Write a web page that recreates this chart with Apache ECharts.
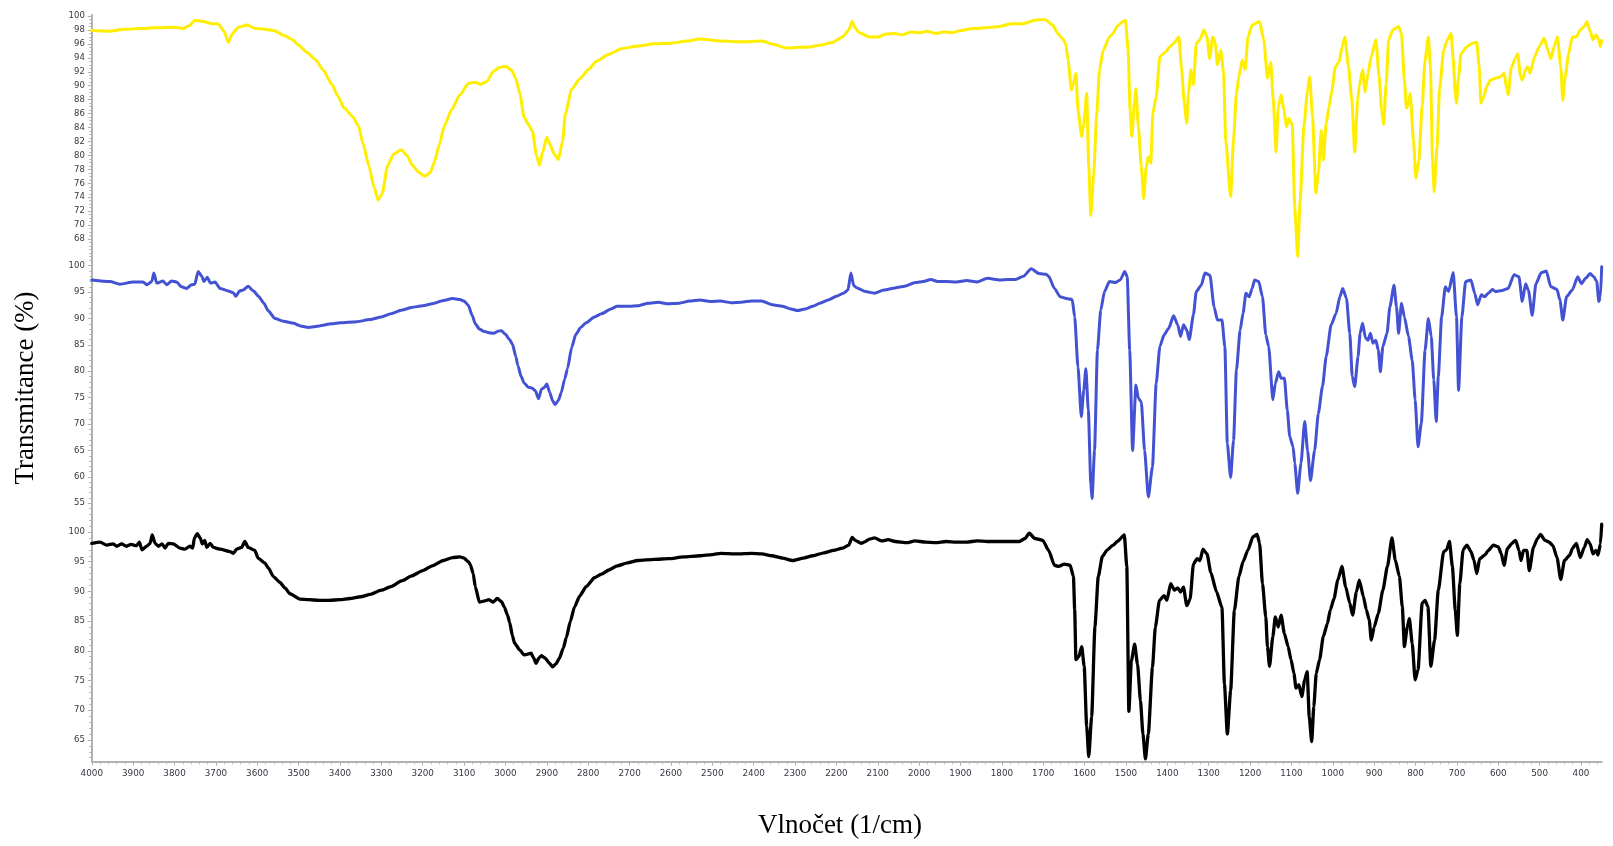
<!DOCTYPE html>
<html>
<head>
<meta charset="utf-8">
<script src="https://cdn.jsdelivr.net/npm/echarts@6/dist/echarts.min.js"></script>
<style>
html,body{margin:0;padding:0;background:#fff;}
#chart{width:1613px;height:846px;}
</style>
</head>
<body>
<div id="chart"></div>
<script>
// ---- DATA ----
const yellowWn = [4000,3960,3920,3880,3850,3800,3780,3765,3750,3730,3710,3695,3680,3670,3660,3645,3625,3605,3580,3560,3535,3515,3500,3480,3460,3440,3420,3405,3390,3370,3355,3345,3330,3318,3308,3298,3285,3270,3252,3238,3225,3210,3195,3182,3172,3160,3148,3130,3110,3090,3075,3060,3045,3030,3015,3000,2985,2975,2965,2955,2945,2935,2925,2918,2910,2900,2892,2882,2872,2862,2855,2840,2820,2800,2780,2750,2720,2680,2640,2600,2560,2530,2480,2430,2380,2350,2320,2290,2270,2240,2210,2185,2170,2162,2155,2145,2120,2100,2080,2060,2040,2020,2000,1980,1960,1940,1920,1900,1870,1840,1805,1777,1748,1720,1696,1677,1665,1654,1646,1640,1632,1627,1621,1616,1607,1602,1595,1590,1585,1578,1571,1564,1555,1540,1531,1522,1507,1501,1495,1490,1486,1479,1476,1470,1463,1457,1451,1446,1440,1435,1427,1418,1403,1394,1384,1372,1366,1359,1353,1349,1343,1337,1330,1321,1312,1304,1298,1290,1284,1279,1271,1264,1259,1247,1240,1233,1227,1219,1212,1205,1195,1177,1167,1158,1150,1144,1137,1132,1125,1118,1112,1106,1098,1092,1085,1079,1070,1061,1056,1049,1041,1035,1028,1023,1016,1009,1002,994,985,977,971,962,954,947,940,936,928,922,915,907,896,888,882,877,871,865,855,841,834,827,822,817,813,805,799,792,784,777,769,764,759,755,748,742,732,723,714,709,704,701,696,690,676,662,652,646,642,635,628,619,605,594,586,579,576,569,559,553,546,542,534,529,523,512,501,489,480,473,465,457,449,444,438,430,421,411,402,392,386,378,371,364,357,353,350];
const yellowT = [97.9,97.8,98.1,98.2,98.3,98.4,98.2,98.6,99.4,99.2,98.9,98.9,97.8,96.2,97.5,98.4,98.7,98.2,98.1,97.9,97.2,96.6,95.8,94.8,93.8,92.2,90.2,88.5,86.8,85.6,84.2,81.8,78.5,75.5,73.6,74.5,78.5,80.2,80.8,80.0,78.6,77.6,77.0,77.5,79.0,81.5,84.2,86.6,88.7,90.3,90.5,90.2,90.6,92.0,92.6,92.8,92.2,91.0,88.8,85.5,84.5,83.5,80.0,78.6,80.5,82.6,81.5,80.2,79.4,82.0,86.0,89.5,91.0,92.3,93.5,94.5,95.3,95.7,96.0,96.1,96.4,96.7,96.4,96.3,96.4,95.9,95.4,95.5,95.5,95.8,96.2,97.0,98.0,99.2,98.3,97.6,97.0,97.0,97.4,97.5,97.3,97.7,97.6,97.8,97.5,97.7,97.6,97.9,98.2,98.3,98.5,98.9,98.9,99.4,99.5,98.7,97.5,96.8,96.1,93.7,89.4,90.3,91.8,86.5,82.7,84.6,88.9,78.4,71.4,77.4,85.6,92.3,95.1,97.0,97.5,98.5,99.2,99.4,95.1,86.5,82.7,87.9,89.6,84.1,78.4,73.8,78.4,79.8,78.9,86.0,88.4,94.2,94.9,95.6,96.1,97.0,92.7,87.5,84.6,88.9,92.3,90.1,96.1,96.6,98.0,97.0,93.9,97.0,96.1,93.0,95.1,91.8,82.2,74.1,82.2,88.9,91.3,93.7,92.3,97.0,98.7,99.2,96.6,91.1,93.4,87.9,80.5,86.9,88.7,86.5,84.1,85.3,84.4,72.6,65.5,73.5,84.1,89.4,91.3,85.6,74.6,77.4,83.6,79.3,84.6,87.0,89.4,92.7,93.4,95.6,97.0,92.7,87.9,80.5,87.9,89.9,92.3,89.1,91.8,94.2,96.6,91.3,86.5,84.4,90.3,96.6,98.0,98.5,97.5,90.8,86.8,87.5,88.9,82.2,76.7,79.3,87.0,93.7,97.0,92.7,79.3,74.8,81.3,89.4,95.1,96.6,97.5,93.9,88.9,87.5,91.3,94.6,95.6,96.1,96.2,92.7,87.5,88.4,89.9,90.8,91.1,91.3,91.8,89.4,88.7,92.5,93.9,94.6,91.3,90.8,92.3,92.7,91.8,94.2,95.6,96.8,95.1,93.9,95.6,97.0,92.7,87.9,91.3,94.6,97.0,97.0,98.0,98.5,99.2,97.8,96.6,97.3,96.6,95.6,96.5];

const blueWn = [4000,3956,3932,3900,3876,3867,3855,3850,3843,3828,3819,3807,3795,3783,3771,3759,3751,3743,3734,3729,3721,3713,3702,3690,3670,3658,3652,3643,3634,3622,3609,3597,3585,3573,3557,3537,3512,3496,3476,3450,3420,3400,3360,3327,3300,3277,3250,3227,3200,3177,3150,3128,3110,3100,3090,3080,3073,3063,3053,3040,3028,3018,3010,3000,2990,2983,2975,2970,2962,2955,2945,2935,2928,2920,2913,2905,2900,2893,2886,2880,2872,2865,2857,2850,2840,2830,2818,2805,2785,2768,2745,2730,2700,2680,2655,2630,2610,2580,2555,2530,2505,2480,2455,2430,2405,2381,2355,2331,2310,2294,2275,2257,2240,2220,2200,2183,2172,2165,2158,2150,2130,2108,2085,2058,2035,2009,1990,1972,1955,1934,1910,1885,1860,1835,1805,1785,1767,1748,1729,1710,1693,1687,1673,1659,1644,1630,1624,1616,1608,1602,1597,1591,1585,1582,1576,1569,1561,1552,1540,1526,1514,1503,1497,1491,1484,1476,1470,1463,1455,1446,1436,1427,1418,1408,1397,1385,1375,1368,1361,1353,1347,1337,1330,1318,1309,1297,1287,1279,1268,1261,1255,1247,1240,1233,1224,1217,1210,1202,1195,1189,1179,1170,1162,1155,1145,1139,1131,1125,1117,1110,1104,1096,1092,1085,1077,1068,1061,1054,1044,1035,1025,1016,1004,992,983,976,967,959,953,947,939,934,928,921,915,909,903,896,890,885,879,869,862,852,846,841,834,827,817,808,801,794,786,777,769,762,756,750,745,737,728,720,709,701,696,688,679,666,657,650,641,633,624,614,607,591,576,562,550,542,534,527,518,509,496,484,473,458,451,444,435,421,408,399,389,378,369,362,357,353,350];
const blueT = [97.3,97.0,96.5,96.9,96.9,96.4,97.0,98.6,96.7,97.1,96.4,97.1,96.9,96.0,95.7,96.4,96.5,98.9,98.0,97.0,97.8,96.7,96.9,95.7,95.2,94.9,94.2,95.2,95.4,96.1,95.2,94.2,93.0,91.4,90.0,89.5,89.1,88.6,88.3,88.6,89.0,89.2,89.4,89.8,90.3,90.9,91.6,92.1,92.4,92.8,93.4,93.8,93.6,93.3,92.5,90.5,89.0,88.0,87.6,87.3,87.2,87.6,87.7,87.0,86.0,85.1,82.8,81.1,79.0,77.8,77.0,76.8,76.3,74.8,76.6,77.0,77.6,76.0,74.4,73.7,74.5,76.0,78.5,80.5,84.5,87.0,88.3,89.2,90.3,90.9,91.8,92.3,92.3,92.4,92.9,93.1,92.8,92.9,93.3,93.5,93.2,93.3,93.0,93.1,93.3,93.3,92.6,92.3,91.8,91.5,91.8,92.3,92.9,93.5,94.2,94.8,95.4,98.6,96.2,95.8,95.1,94.8,95.4,95.8,96.1,96.8,97.0,97.4,97.0,97.0,96.9,97.2,96.9,97.6,97.3,97.4,97.4,98.0,99.4,98.5,98.4,98.0,95.7,94.1,93.8,93.6,90.3,80.8,71.4,76.4,80.5,72.6,58.7,55.9,65.0,84.0,91.6,95.1,97.0,96.8,97.3,98.9,97.9,84.0,65.0,77.4,74.9,74.2,65.0,56.2,61.9,77.7,84.7,86.9,88.1,90.5,88.8,86.6,88.8,87.8,86.0,90.7,95.1,96.3,98.6,98.2,92.2,89.7,89.7,84.7,66.3,59.9,66.9,80.2,87.8,91.0,94.8,94.1,95.7,97.3,97.0,94.1,86.9,84.7,74.6,77.7,79.9,78.7,78.7,72.6,67.6,65.7,62.6,56.9,62.6,70.5,65.0,59.3,65.0,72.0,77.1,82.8,88.8,91.0,94.1,95.7,93.8,87.2,79.0,77.1,82.8,87.2,89.1,86.3,85.9,87.2,85.3,85.9,84.0,79.9,84.7,87.2,92.2,96.3,92.2,87.2,92.9,90.3,86.6,82.1,74.6,65.7,70.2,84.0,90.0,86.6,78.4,70.5,79.0,90.3,96.0,95.1,98.7,90.3,76.4,90.3,97.0,97.3,94.8,92.6,94.5,94.1,94.8,95.5,95.1,95.3,95.7,98.3,97.9,93.2,96.6,95.3,90.6,96.6,98.7,99.0,96.0,95.5,93.5,89.7,94.1,95.4,97.9,96.6,97.6,98.5,97.9,97.0,93.2,94.1,99.8];

const blackWn = [4000,3980,3964,3948,3940,3928,3916,3905,3892,3885,3879,3867,3859,3854,3847,3839,3830,3823,3815,3803,3787,3775,3763,3756,3752,3745,3738,3733,3727,3722,3714,3706,3690,3666,3658,3650,3638,3630,3622,3606,3598,3582,3573,3561,3545,3533,3521,3497,3476,3450,3426,3400,3376,3350,3327,3300,3277,3250,3227,3200,3177,3150,3128,3110,3100,3090,3085,3078,3073,3063,3050,3040,3030,3020,3010,3003,2995,2990,2983,2978,2965,2955,2948,2938,2932,2926,2919,2913,2907,2903,2895,2886,2878,2870,2860,2853,2843,2833,2820,2805,2785,2768,2750,2730,2705,2680,2640,2605,2570,2530,2500,2480,2440,2406,2380,2356,2330,2306,2280,2257,2230,2207,2185,2170,2162,2155,2140,2133,2120,2108,2090,2075,2058,2030,2010,1984,1960,1935,1910,1885,1860,1835,1805,1758,1744,1734,1720,1701,1687,1673,1663,1649,1635,1627,1624,1621,1614,1607,1601,1595,1590,1583,1575,1567,1557,1545,1531,1521,1504,1498,1493,1487,1479,1472,1465,1459,1453,1446,1436,1429,1419,1408,1401,1392,1383,1375,1368,1361,1353,1345,1337,1328,1321,1314,1304,1295,1281,1268,1262,1255,1247,1238,1227,1217,1205,1193,1183,1177,1170,1162,1158,1153,1145,1139,1132,1125,1117,1108,1101,1094,1089,1082,1075,1068,1062,1057,1051,1046,1040,1032,1023,1013,1006,997,988,978,969,959,952,943,936,926,919,912,907,900,890,879,868,857,849,839,832,827,820,815,808,801,794,784,777,770,763,754,745,732,725,718,711,704,699,693,685,676,666,659,652,645,633,624,612,600,593,586,578,567,558,550,545,539,531,525,515,506,498,487,477,468,458,449,440,427,421,411,402,392,385,378,371,364,359,353,350];
const blackT = [98.1,98.3,97.8,98.0,97.6,98.0,97.6,97.9,97.7,98.3,97.0,97.6,98.1,99.5,98.1,97.6,98.0,97.3,98.1,98.0,97.3,97.1,97.6,97.3,99.0,99.7,99.0,98.0,98.6,97.4,98.1,97.4,97.1,96.7,96.4,97.1,97.4,98.4,97.4,96.9,95.6,94.8,93.9,92.5,91.5,90.6,89.6,88.7,88.6,88.5,88.5,88.6,88.8,89.1,89.5,90.2,90.8,91.8,92.6,93.5,94.3,95.2,95.7,95.8,95.6,95.0,94.5,93.0,90.8,88.2,88.4,88.6,88.2,88.8,88.3,87.4,86.0,84.8,82.5,81.3,80.1,79.3,79.4,79.6,78.8,77.9,78.8,79.2,78.9,78.7,78.0,77.3,77.8,78.7,80.5,82.2,85.0,87.4,89.3,90.8,92.3,92.9,93.6,94.3,94.8,95.2,95.4,95.5,95.8,96.0,96.2,96.4,96.3,96.4,96.3,96.0,95.6,95.2,95.6,96.0,96.5,96.9,97.3,97.8,99.1,98.6,98.1,98.3,98.8,99.0,98.5,98.7,98.4,98.2,98.5,98.3,98.2,98.4,98.3,98.3,98.5,98.4,98.4,98.4,98.9,99.8,98.9,98.6,96.9,94.4,94.2,94.6,94.4,92.5,86.9,78.5,79.0,80.7,77.4,67.3,62.2,68.9,84.1,92.5,95.9,97.0,97.8,98.4,99.5,94.2,69.8,78.3,81.1,77.7,71.6,66.0,61.8,66.0,77.2,84.0,88.5,89.3,88.5,91.3,90.2,90.6,89.9,90.7,87.6,88.7,94.6,95.5,95.2,97.1,96.3,93.2,89.9,87.3,74.4,66.0,73.3,86.8,92.5,95.0,97.0,99.2,99.6,98.1,91.3,85.7,80.7,77.4,82.4,85.7,84.0,86.0,82.9,80.7,78.5,76.2,73.7,74.3,72.3,75.1,76.5,68.9,64.7,70.6,76.2,78.5,82.4,84.6,86.9,88.8,91.9,94.2,90.8,88.0,86.0,89.9,91.9,89.1,86.9,85.2,81.8,84.0,86.3,90.2,94.2,99.0,95.3,92.5,87.4,80.7,84.0,85.4,81.2,75.1,76.8,88.0,88.5,87.4,77.4,81.8,90.2,96.7,97.0,98.4,94.2,86.9,82.6,91.3,97.0,97.8,96.7,95.3,93.0,95.5,96.1,96.9,97.8,97.5,96.4,94.4,97.2,98.1,98.6,96.9,95.2,96.9,96.9,93.5,97.4,98.8,99.6,98.6,98.3,97.7,95.7,92.0,95.2,96.1,97.2,98.1,95.7,97.4,98.7,98.0,96.3,96.9,96.1,98.0,101.3];

// tick labels
const xTickLabels = [4000,3900,3800,3700,3600,3500,3400,3300,3200,3100,3000,2900,2800,2700,2600,2500,2400,2300,2200,2100,2000,1900,1800,1700,1600,1500,1400,1300,1200,1100,1000,900,800,700,600,500,400];
const yellowTickLabels = [100,98,96,94,92,90,88,86,84,82,80,78,76,74,72,70,68];
const blueTickLabels = [100,95,90,85,80,75,70,65,60,55];
const blackTickLabels = [100,95,90,85,80,75,70,65];

const xTitle = 'Vlnočet (1/cm)';
const yTitle = 'Transmitance (%)';

// ---- LAYOUT ----
const X_MIN = 350, X_MAX = 4000;
const panels = [
  {top: 15, height: 245, min: 65, max: 100.14, labels: yellowTickLabels, minorStep: 0.5},
  {top: 260, height: 255, min: 52.78, max: 101.08, labels: blueTickLabels, minorStep: 1},
  {top: 515, height: 246.7, min: 61.33, max: 102.86, labels: blackTickLabels, minorStep: 1}
];
const LEFT = 91.8, RIGHT = 1613 - 1601.7;

function stepList(lo, hi, step) {
  const out = [];
  const start = Math.ceil(lo / step - 1e-9) * step;
  for (let v = start; v <= hi + 1e-9; v += step) out.push(Math.round(v * 100) / 100);
  return out;
}

const axisGray = '#b2b2b2';
const labelColor = '#3a3440';
const plain = v => String(Math.round(v));

const grid = panels.map(p => ({left: LEFT, right: RIGHT, top: p.top, height: p.height, outerBoundsMode: 'none', containLabel: false}));

const xAxis = [];
const yAxis = [];
panels.forEach((p, i) => {
  const isBottom = i === panels.length - 1;
  xAxis.push({
    type: 'value', gridIndex: i, min: X_MIN, max: X_MAX, inverse: true,
    position: 'bottom',
    show: isBottom,
    splitLine: {show: false},
    axisLine: {show: isBottom, lineStyle: {color: axisGray, width: 2}},
    axisTick: {show: isBottom, length: 4, lineStyle: {color: axisGray, width: 1}, customValues: xTickLabels},
    axisLabel: {show: isBottom, customValues: xTickLabels, formatter: plain, color: labelColor, fontFamily: 'DejaVu Sans', fontSize: 8.8, margin: 8}
  });
  yAxis.push({
    type: 'value', gridIndex: i, min: p.min, max: p.max, position: 'left',
    splitLine: {show: false},
    axisLine: {show: true, onZero: false, lineStyle: {color: axisGray, width: 2}},
    axisTick: {show: true, length: 4, lineStyle: {color: axisGray, width: 1}, customValues: p.labels},
    axisLabel: {customValues: p.labels, formatter: plain, color: labelColor, fontFamily: 'DejaVu Sans', fontSize: 8.5, margin: 7}
  });
});
// minor tick axes
panels.forEach((p, i) => {
  yAxis.push({
    type: 'value', gridIndex: i, min: p.min, max: p.max, position: 'left', offset: 0,
    splitLine: {show: false},
    axisLine: {show: false},
    axisLabel: {show: false},
    axisTick: {show: true, length: 2.5, lineStyle: {color: axisGray, width: 1}, customValues: stepList(p.min, p.max, p.minorStep)}
  });
});
xAxis.push({
  type: 'value', gridIndex: 2, min: X_MIN, max: X_MAX, inverse: true, position: 'bottom', offset: 0,
  splitLine: {show: false},
  axisLine: {show: false},
  axisLabel: {show: false},
  axisTick: {show: true, length: 2.5, lineStyle: {color: axisGray, width: 1}, customValues: stepList(X_MIN, X_MAX, 20)}
});

function zip(a, b) { return a.map((v, k) => [v, b[k]]); }

const seriesDefs = [
  {wn: yellowWn, t: yellowT, color: '#FFEE00', width: 3, idx: 0},
  {wn: blueWn, t: blueT, color: '#4352D3', width: 3, idx: 1},
  {wn: blackWn, t: blackT, color: '#000000', width: 3.3, idx: 2}
];

const series = seriesDefs.map(s => ({
  type: 'line', xAxisIndex: s.idx, yAxisIndex: s.idx,
  data: zip(s.wn, s.t), showSymbol: false, symbol: 'none',
  smooth: 0.2, smoothMonotone: 'x',
  lineStyle: {color: s.color, width: s.width, join: 'round', cap: 'round'},
  clip: false
}));

const chart = echarts.init(document.getElementById('chart'), null, {renderer: 'canvas'});
chart.setOption({
  animation: false,
  backgroundColor: '#ffffff',
  grid, xAxis, yAxis, series,
  graphic: [
    {type: 'text', x: 26, y: 388, rotation: Math.PI / 2, style: {text: yTitle, fontFamily: '"Liberation Serif", "Times New Roman", serif', fontSize: 27, fill: '#000', align: 'center', verticalAlign: 'middle'}},
    {type: 'text', x: 840, y: 826, style: {text: xTitle, fontFamily: '"Liberation Serif", "Times New Roman", serif', fontSize: 27, fill: '#000', align: 'center', verticalAlign: 'middle'}}
  ]
});
</script>
</body>
</html>
